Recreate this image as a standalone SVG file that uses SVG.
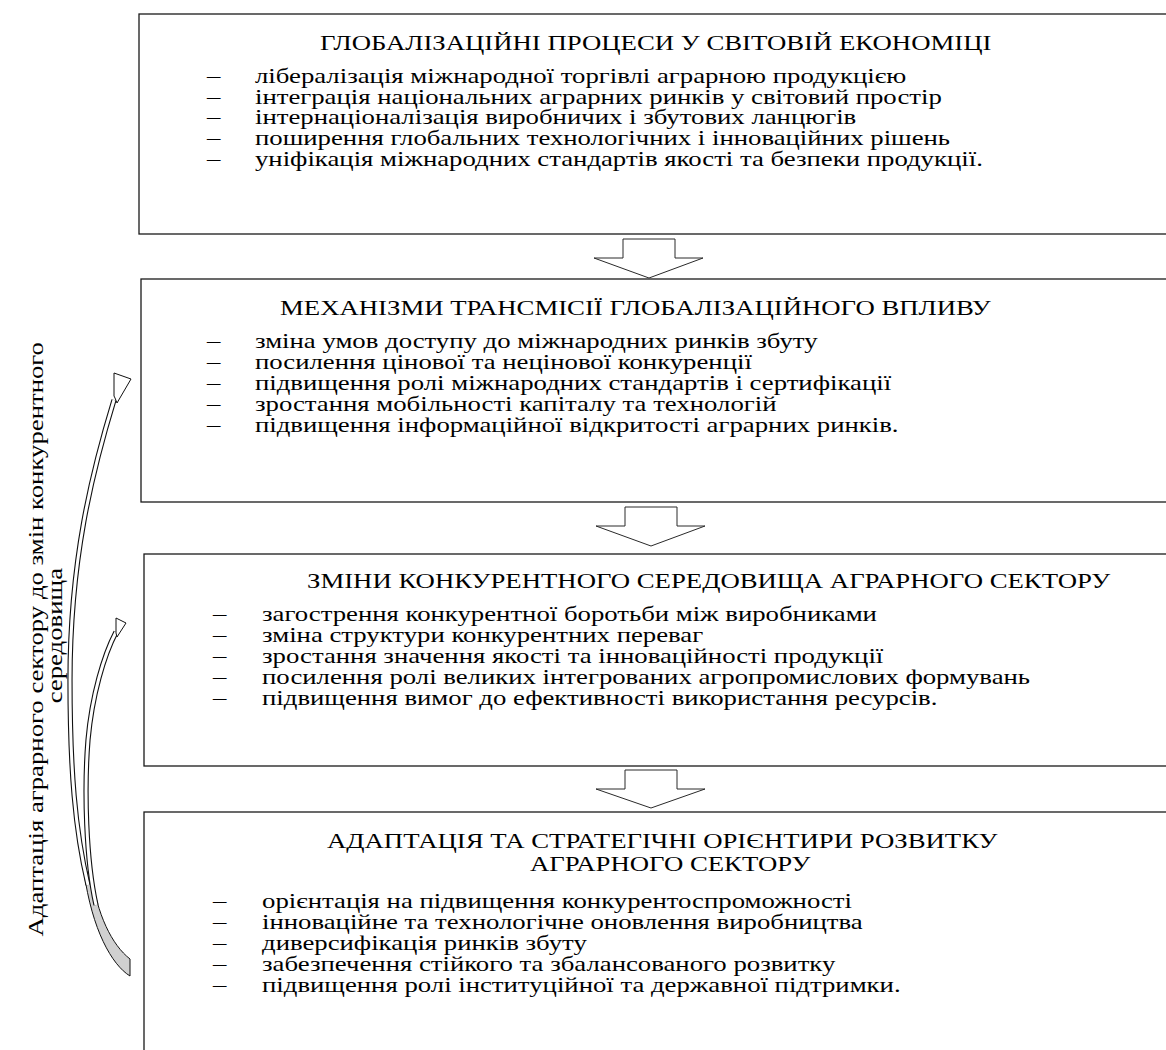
<svg xmlns="http://www.w3.org/2000/svg" width="1166" height="1050" viewBox="0 0 1166 1050">
<style>
text{font-family:'Liberation Serif',Tinos,'Times New Roman',Times,'DejaVu Serif',serif;font-size:22px;fill:#000}
.box{fill:#fff;stroke:#1a1a1a;stroke-width:1.3}
.blk{fill:#fff;stroke:#2a2a2a;stroke-width:1}
.rb{fill:none;stroke:#111;stroke-width:5.2}
.rw{fill:none;stroke:#fff;stroke-width:3}
.hd{fill:#fff;stroke:#111;stroke-width:1}
.wg{fill:#d0d0d0;stroke:#111;stroke-width:1}
</style>
<rect width="1166" height="1050" fill="#fff"/>
<g id="box1">
<rect class="box" x="139" y="14" width="1040" height="220"/>
<g transform="scale(1.216 1)">
<text x="263.2" y="50">ГЛОБАЛІЗАЦІЙНІ ПРОЦЕСИ У СВІТОВІЙ ЕКОНОМІЦІ</text>
<text x="170.2" y="83">–</text><text x="209.7" y="83">лібералізація міжнародної торгівлі аграрною продукцією</text>
<text x="170.2" y="104">–</text><text x="209.7" y="104">інтеграція національних аграрних ринків у світовий простір</text>
<text x="170.2" y="124">–</text><text x="209.7" y="124">інтернаціоналізація виробничих і збутових ланцюгів</text>
<text x="170.2" y="145">–</text><text x="209.7" y="145">поширення глобальних технологічних і інноваційних рішень</text>
<text x="170.2" y="166">–</text><text x="209.7" y="166">уніфікація міжнародних стандартів якості та безпеки продукції.</text>
</g>
</g>
<g id="box2">
<rect class="box" x="141" y="279" width="1040" height="223"/>
<g transform="scale(1.216 1)">
<text x="230.3" y="315">МЕХАНІЗМИ ТРАНСМІСІЇ ГЛОБАЛІЗАЦІЙНОГО ВПЛИВУ</text>
<text x="170.2" y="348">–</text><text x="209.7" y="348">зміна умов доступу до міжнародних ринків збуту</text>
<text x="170.2" y="369">–</text><text x="209.7" y="369">посилення цінової та нецінової конкуренції</text>
<text x="170.2" y="390">–</text><text x="209.7" y="390">підвищення ролі міжнародних стандартів і сертифікації</text>
<text x="170.2" y="411">–</text><text x="209.7" y="411">зростання мобільності капіталу та технологій</text>
<text x="170.2" y="432">–</text><text x="209.7" y="432">підвищення інформаційної відкритості аграрних ринків.</text>
</g>
</g>
<g id="box3">
<rect class="box" x="144" y="554" width="1040" height="212"/>
<g transform="scale(1.216 1)">
<text x="252.5" y="588">ЗМІНИ КОНКУРЕНТНОГО СЕРЕДОВИЩА АГРАРНОГО СЕКТОРУ</text>
<text x="175.2" y="621">–</text><text x="215.5" y="621">загострення конкурентної боротьби між виробниками</text>
<text x="175.2" y="642">–</text><text x="215.5" y="642">зміна структури конкурентних переваг</text>
<text x="175.2" y="663">–</text><text x="215.5" y="663">зростання значення якості та інноваційності продукції</text>
<text x="175.2" y="684">–</text><text x="215.5" y="684">посилення ролі великих інтегрованих агропромислових формувань</text>
<text x="175.2" y="705">–</text><text x="215.5" y="705">підвищення вимог до ефективності використання ресурсів.</text>
</g>
</g>
<g id="box4">
<rect class="box" x="144" y="812" width="1040" height="260"/>
<g transform="scale(1.216 1)">
<text x="268.9" y="848">АДАПТАЦІЯ ТА СТРАТЕГІЧНІ ОРІЄНТИРИ РОЗВИТКУ</text>
<text x="435.9" y="871">АГРАРНОГО СЕКТОРУ</text>
<text x="175.2" y="908">–</text><text x="215.5" y="908">орієнтація на підвищення конкурентоспроможності</text>
<text x="175.2" y="929">–</text><text x="215.5" y="929">інноваційне та технологічне оновлення виробництва</text>
<text x="175.2" y="950">–</text><text x="215.5" y="950">диверсифікація ринків збуту</text>
<text x="175.2" y="971">–</text><text x="215.5" y="971">забезпечення стійкого та збалансованого розвитку</text>
<text x="175.2" y="992">–</text><text x="215.5" y="992">підвищення ролі інституційної та державної підтримки.</text>
</g>
</g>
<g id="side-label">
<text transform="translate(43,342) rotate(-90) scale(1.216 1)" text-anchor="end">Адаптація аграрного сектору до змін конкурентного</text>
<text transform="translate(62,568) rotate(-90) scale(1.216 1)" text-anchor="end">середовища</text>
</g>
<g id="connectors">
<polygon class="blk" points="623,239 675,239 675,258 703,258 649,278 594,258 623,258"/>
<polygon class="blk" points="625,507 677,507 677,526 705,526 651,546 596,526 625,526"/>
<polygon class="blk" points="625,770 677,770 677,789 705,789 651,808 596,789 625,789"/>
<path class="wg" d="M130,976 C112,965 92,930 84,872 L91,872 C97,915 112,945 130,959 Z"/>
<path class="rb" d="M88,885 C75,830 70,770 70,680 C70,560 92,472 114,400"/>
<path class="rw" d="M88,885 C75,830 70,770 70,680 C70,560 92,472 114,400"/>
<polygon class="hd" points="114,396 114,373 131,379 117,403 115,398"/>
<path class="rb" d="M96,905 C86,860 84,790 88,740 C92,695 104,655 116,632"/>
<path class="rw" d="M96,905 C86,860 84,790 88,740 C92,695 104,655 116,632"/>
<polygon class="hd" points="116,632 116,618 126,623 117,637 116,633"/>
</g>
</svg>
